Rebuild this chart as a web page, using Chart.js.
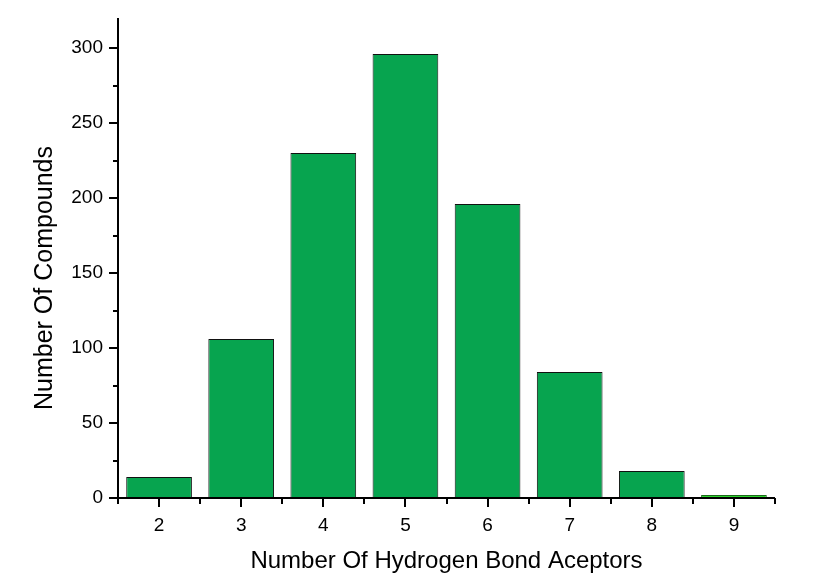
<!DOCTYPE html>
<html>
<head>
<meta charset="utf-8">
<script src="https://cdn.jsdelivr.net/npm/chart.js@4/dist/chart.umd.min.js"></script>
<style>
html,body{margin:0;padding:0;background:#fff;}
#wrap{width:830px;height:583px;}
</style>
</head>
<body>
<div id="wrap"><canvas id="c" width="830" height="583"></canvas></div>
<script>
const categories = ['2','3','4','5','6','7','8','9'];
const counts = [14, 106, 230, 296, 196, 84, 18, 2];
const barColors = ['#07a44f','#07a44f','#07a44f','#07a44f','#07a44f','#07a44f','#07a44f','#2ed62e'];
const barBorders = ['#111','#111','#111','#111','#111','#111','#111','#1a6a1a'];
const yMajorTicks = [0, 50, 100, 150, 200, 250, 300];
const yMinorTicks = [25, 75, 125, 175, 225, 275];
const xTitle = 'Number Of Hydrogen Bond Aceptors';
const yTitle = 'Number Of Compounds';

const FONT = 'Arial, "Liberation Sans", sans-serif';

const tickPlugin = {
  id: 'ticks',
  afterDraw(chart) {
    const ctx = chart.ctx;
    const x = chart.scales.x, y = chart.scales.y;
    const ca = chart.chartArea;
    ctx.save();
    ctx.strokeStyle = '#000';
    ctx.lineWidth = 2;
    ctx.beginPath();
    ctx.moveTo(ca.left, ca.top);
    ctx.lineTo(ca.left, ca.bottom + 1);
    ctx.moveTo(ca.left - 1, ca.bottom);
    ctx.lineTo(ca.right, ca.bottom);
    ctx.stroke();
    ctx.beginPath();
    yMajorTicks.forEach(v => { const p = Math.round(y.getPixelForValue(v)); ctx.moveTo(ca.left - 9, p); ctx.lineTo(ca.left, p); });
    yMinorTicks.forEach(v => { const p = Math.round(y.getPixelForValue(v)); ctx.moveTo(ca.left - 5, p); ctx.lineTo(ca.left, p); });
    categories.forEach((c, i) => { const p = Math.round(x.getPixelForValue(i)); ctx.moveTo(p, ca.bottom); ctx.lineTo(p, ca.bottom + 9); });
    for (let i = 0; i <= categories.length; i++) {
      const p = Math.round(x.getPixelForValue(i - 0.5));
      ctx.moveTo(p, ca.bottom); ctx.lineTo(p, ca.bottom + 6);
    }
    ctx.stroke();
    // y axis title (Origin-style, slightly below centre)
    ctx.fillStyle = '#000';
    ctx.font = '25px ' + FONT;
    ctx.textAlign = 'center';
    ctx.textBaseline = 'middle';
    ctx.translate(45, 278);
    ctx.rotate(-Math.PI / 2);
    ctx.fillText(yTitle, 0, 0);
    ctx.restore();
  }
};

new Chart(document.getElementById('c'), {
  type: 'bar',
  data: {
    labels: categories,
    datasets: [{
      data: counts,
      backgroundColor: barColors,
      borderColor: barBorders,
      borderWidth: 1,
      categoryPercentage: 1,
      barPercentage: 0.8,
      borderSkipped: 'bottom'
    }]
  },
  options: {
    responsive: false,
    animation: false,
    layout: { padding: { top: 18, right: 55, left: 0, bottom: 0 } },
    plugins: { legend: { display: false }, tooltip: { enabled: false } },
    scales: {
      x: {
        offset: true,
        grid: { display: false, drawTicks: false },
        border: { display: false },
        ticks: { color: '#000', font: { family: FONT, size: 19 }, padding: 16 },
        title: { display: true, text: xTitle, color: '#000', font: { family: FONT, size: 24 }, padding: 7 },
        afterFit(s) { s.height = 85; s.paddingLeft = 0; s.paddingRight = 0; }
      },
      y: {
        min: 0, max: 320,
        grid: { display: false, drawTicks: false },
        border: { display: false },
        ticks: { stepSize: 50, color: '#000', font: { family: FONT, size: 19 }, padding: 15,
          callback: v => yMajorTicks.includes(v) ? String(v) : '' },
        title: { display: false },
        afterFit(s) { s.width = 118; s.paddingTop = 0; s.paddingBottom = 0; }
      }
    }
  },
  plugins: [tickPlugin]
});
</script>
</body>
</html>
